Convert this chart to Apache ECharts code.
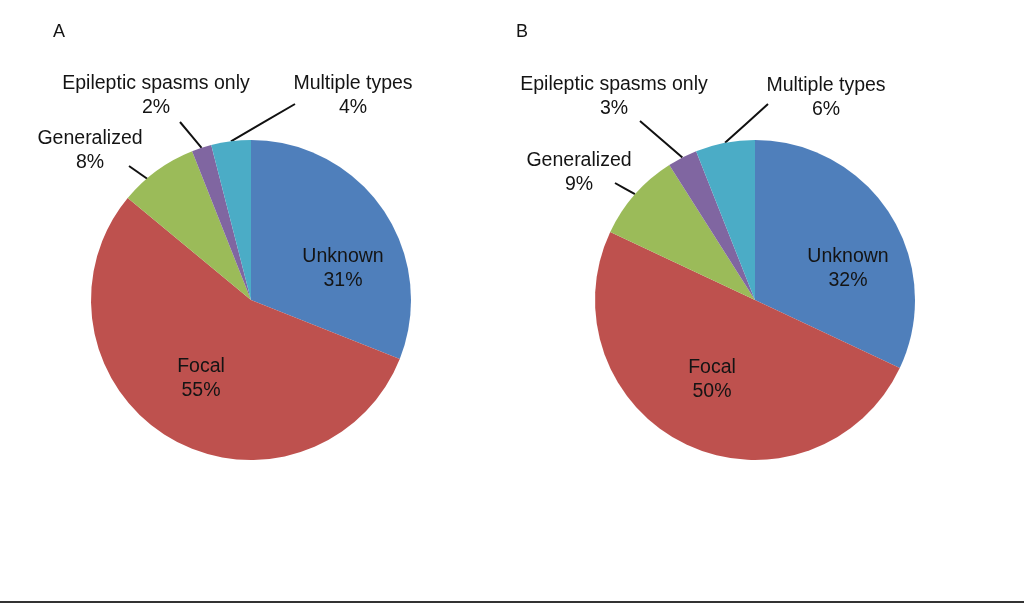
<!DOCTYPE html>
<html>
<head>
<meta charset="utf-8">
<script src="https://cdn.jsdelivr.net/npm/echarts@6/dist/echarts.min.js"></script>
<style>
html,body{margin:0;padding:0;background:#fff;}
#chart{width:1024px;height:603px;}
</style>
</head>
<body>
<div id="chart"></div>
<script>
// ---- data ----
const categories = ['Unknown', 'Focal', 'Generalized', 'Epileptic spasms only', 'Multiple types'];
const valuesA = [31, 55, 8, 2, 4];
const valuesB = [32, 50, 9, 3, 6];
const panelTitles = ['A', 'B'];

// ---- styling / layout ----
const colors = ['#4F7FBB', '#BE514E', '#9BBB59', '#8066A1', '#4BACC6'];
const centers = [[251, 300], [755, 300]];
const radius = 160;
// label centre positions per panel, per category
const labelPos = [
  [[343, 269], [201, 379], [90, 151], [156, 96], [353, 96]],
  [[848, 269], [712, 380], [579, 173], [614, 97], [826, 98]]
];
// where each leader line stops near its label
const lineEnd = [
  [null, null, [129, 166], [180, 122], [295, 104]],
  [null, null, [615, 183], [640, 121], [768, 104]]
];
// optional override of where a leader line meets the pie (null = slice middle)
const lineStart = [
  [null, null, [149, 180], null, null],
  [null, null, null, null, null]
];
const outside = [false, false, true, true, true];
const titlePos = [[53, 23], [516, 23]];
const fontFam = '"Liberation Sans", Arial, sans-serif';

function makeSeries(vals, p) {
  const total = vals.reduce((a, b) => a + b, 0);
  return {
    type: 'pie',
    center: centers[p],
    radius: radius,
    startAngle: 90,
    clockwise: true,
    animation: false,
    silent: true,
    avoidLabelOverlap: false,
    data: categories.map((c, i) => ({
      name: c,
      value: vals[i],
      itemStyle: { color: colors[i] },
      label: { position: outside[i] ? 'outside' : 'inside' },
      labelLine: { show: outside[i] }
    })),
    itemStyle: { borderWidth: 0 },
    label: {
      show: true,
      formatter: '{b}\n{c}%',
      fontFamily: fontFam,
      fontSize: 19.5,
      lineHeight: 24,
      color: '#141414',
      align: 'center'
    },
    labelLine: {
      length: 10,
      length2: 0,
      lineStyle: { color: '#111', width: 2 }
    },
    labelLayout: function (params) {
      const i = params.dataIndex;
      const pos = labelPos[p][i];
      const res = { x: pos[0], y: pos[1], align: 'center', verticalAlign: 'middle' };
      const end = lineEnd[p][i];
      if (end) {
        let start = lineStart[p][i];
        if (!start && params.labelLinePoints && params.labelLinePoints[0]) {
          start = params.labelLinePoints[0];
        }
        if (!start) {
          let before = 0;
          for (let k = 0; k < i; k++) before += vals[k];
          const a = (before + vals[i] / 2) / total * 2 * Math.PI;
          start = [centers[p][0] + radius * Math.sin(a), centers[p][1] - radius * Math.cos(a)];
        }
        res.labelLinePoints = [
          [start[0], start[1]],
          [(start[0] + end[0]) / 2, (start[1] + end[1]) / 2],
          [end[0], end[1]]
        ];
      }
      return res;
    }
  };
}

const chart = echarts.init(document.getElementById('chart'), null, { renderer: 'canvas' });
chart.setOption({
  backgroundColor: '#fff',
  animation: false,
  title: panelTitles.map((t, i) => ({
    text: t,
    left: titlePos[i][0],
    top: titlePos[i][1],
    textStyle: { fontFamily: fontFam, fontSize: 18, fontWeight: 'normal', color: '#141414' },
    padding: 0
  })),
  series: [makeSeries(valuesA, 0), makeSeries(valuesB, 1)],
  graphic: [{
    type: 'rect',
    shape: { x: 0, y: 601, width: 1024, height: 2 },
    style: { fill: '#333' },
    silent: true
  }]
});
</script>
</body>
</html>
